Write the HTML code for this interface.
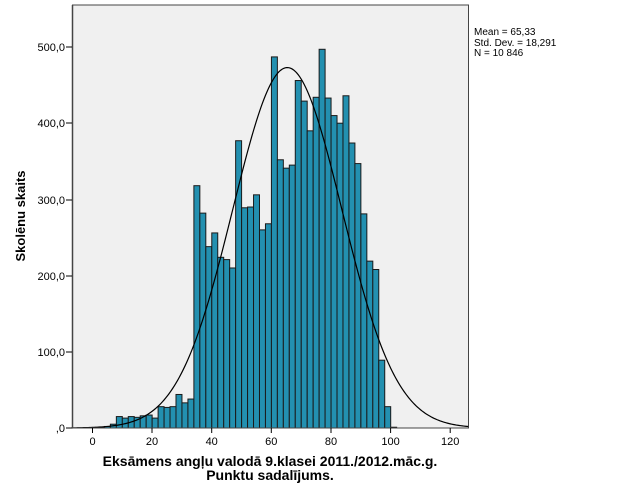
<!DOCTYPE html>
<html><head><meta charset="utf-8"><style>
body{margin:0;background:#fff;}
svg{display:block;font-family:"Liberation Sans",sans-serif;}
</style></head><body>
<svg id="s" width="625" height="500" xmlns="http://www.w3.org/2000/svg">
<rect x="72.5" y="5" width="396" height="423" fill="#f0f0f0" stroke="#444" stroke-width="1"/>
<g id="bars"></g>
<path id="curve" fill="none" stroke="#000" stroke-width="1.2"/>
<line x1="72.5" y1="5" x2="72.5" y2="428" stroke="#444" stroke-width="1.5"/>
<line x1="72.5" y1="428" x2="468.5" y2="428" stroke="#444" stroke-width="1"/>
<g stroke="#000" stroke-width="1">
<line x1="66" y1="428" x2="72" y2="428"/><line x1="66" y1="352" x2="72" y2="352"/>
<line x1="66" y1="276" x2="72" y2="276"/><line x1="66" y1="200" x2="72" y2="200"/>
<line x1="66" y1="123" x2="72" y2="123"/><line x1="66" y1="47" x2="72" y2="47"/>
<line x1="92.5" y1="428" x2="92.5" y2="433"/><line x1="152" y1="428" x2="152" y2="433"/>
<line x1="211.7" y1="428" x2="211.7" y2="433"/><line x1="271.3" y1="428" x2="271.3" y2="433"/>
<line x1="331" y1="428" x2="331" y2="433"/><line x1="390.6" y1="428" x2="390.6" y2="433"/>
<line x1="450.2" y1="428" x2="450.2" y2="433"/>
</g>
<g font-size="11" text-anchor="end">
<text x="65" y="432">,0</text><text x="65" y="356">100,0</text>
<text x="65" y="280">200,0</text><text x="65" y="204">300,0</text>
<text x="65" y="127">400,0</text><text x="65" y="51">500,0</text>
</g>
<g font-size="11" text-anchor="middle">
<text x="92.5" y="445">0</text><text x="152" y="445">20</text><text x="211.7" y="445">40</text>
<text x="271.3" y="445">60</text><text x="331" y="445">80</text><text x="390.6" y="445">100</text>
<text x="450.2" y="445">120</text>
</g>
<g font-size="10">
<text x="474" y="35">Mean = 65,33</text>
<text x="474" y="46">Std. Dev. = 18,291</text>
<text x="474" y="56">N = 10 846</text>
</g>
<text x="270" y="466" font-size="14" font-weight="bold" text-anchor="middle">Eksāmens angļu valodā 9.klasei 2011./2012.māc.g.</text>
<text x="270" y="480" font-size="14" font-weight="bold" text-anchor="middle">Punktu sadalījums.</text>
<text transform="translate(25,216) rotate(-90)" font-size="13" font-weight="bold" text-anchor="middle">Skolēnu skaits</text>
</svg>
<script>
var v={2:1,4:2,6:5,8:15,10:13,12:15,14:14,16:16,18:17,20:13,22:28,24:27,26:28,28:44,30:33,32:38,34:318,36:282,38:238,40:256,42:224,44:221,46:210,48:377,50:289,52:290,54:306,56:260,58:268,60:487,62:352,64:341,66:345,68:456,70:429,72:390,74:434,76:497,78:433,80:410,82:400,84:436,86:374,88:347,90:281,92:219,94:208,96:89,98:28,100:1};
var X=function(u){return 92.5+u*2.982},Y=function(c){return 428-c*0.762};
var g=document.getElementById('bars'),h='';
for(var k in v){var x=X(+k),y=Y(v[k]);h+='<rect x="'+x+'" y="'+y+'" width="5.96" height="'+(428-y)+'" fill="#2390b0" stroke="#1a1a1a" stroke-width="1"/>';}
g.innerHTML=h;
var d='';for(var u=-7;u<=126;u+=0.5){var c=473*Math.exp(-Math.pow((u-65.33)/18.291,2)/2);d+=(d?'L':'M')+X(u).toFixed(2)+','+Y(c).toFixed(2);}
document.getElementById('curve').setAttribute('d',d);
</script>
</body></html>
